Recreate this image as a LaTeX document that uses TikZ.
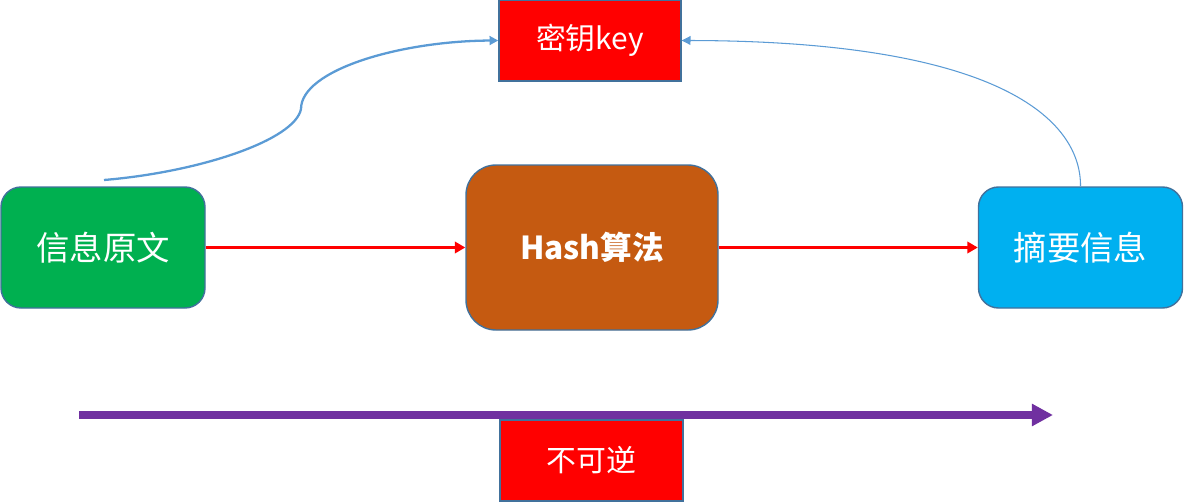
\documentclass[tikz,border=0pt]{standalone}
\usepackage{fontspec}
\setmainfont{Noto Sans CJK SC}
\usetikzlibrary{arrows.meta}
\definecolor{boxline}{HTML}{41719C}
\definecolor{linkblue}{HTML}{5B9BD5}
\definecolor{keyred}{HTML}{FF0000}
\definecolor{srcgreen}{HTML}{00B050}
\definecolor{hashbrown}{HTML}{C55A11}
\definecolor{digestblue}{HTML}{00B0F0}
\definecolor{oneway}{HTML}{7030A0}
\tikzstyle{roundbox} = [rectangle, rounded corners=0.4cm, minimum width=4.08cm, minimum height=2.42cm, text centered, draw=boxline, line width=0.8pt, text=white, font=\fontsize{19}{22}\selectfont]
\tikzstyle{hashbox} = [rectangle, rounded corners=0.6cm, minimum width=5.04cm, minimum height=3.3cm, text centered, draw=boxline, line width=0.8pt, fill=hashbrown, text=white, font=\fontsize{18}{22}\selectfont\bfseries]
\tikzstyle{tagbox} = [rectangle, minimum width=3.64cm, minimum height=1.62cm, text centered, draw=boxline, line width=0.8pt, fill=keyred, text=white, font=\fontsize{17}{20}\selectfont]
\tikzstyle{arrow} = [draw=red, line width=2pt, -{Triangle[length=6pt, width=6.5pt]}]
\tikzstyle{keylink} = [draw=linkblue, -{Triangle[length=5pt, width=5pt]}]

\begin{document}
\begin{tikzpicture}
					\useasboundingbox (0,0) rectangle (23.68,-10.02);
					\node[roundbox, fill=srcgreen] (plain) at (2.06,-4.95) {信息原文};
					\node[hashbox] (hash) at (11.84,-4.95) {Hash算法};
					\node[roundbox, fill=digestblue] (digest) at (21.61,-4.95) {摘要信息};
					\node[tagbox] (key) at (11.8,-0.81) {密钥key};
					\node[tagbox, minimum width=3.66cm] (irrev) at (11.83,-9.21) {不可逆};
					\coordinate (curvestart) at (2.08,-3.6);
					\coordinate (curvemid) at (6.02,-2.18);
					\coordinate (flowstart) at (1.58,-8.3);
					\coordinate (flowend) at (21.06,-8.3);
					\draw[arrow] (plain) -- (hash);
					\draw[arrow] (hash) -- (digest);
					\draw[keylink, line width=1.3pt] (curvestart) .. controls (4.0,-3.44) and (5.9,-2.8) .. (curvemid) .. controls (6.02,-1.4) and (8.0,-0.82) .. (key.west);
					\draw[keylink, line width=0.6pt] (digest.north) .. controls (21.62,-2.4) and (20.0,-0.82) .. (key.east);
					\draw[draw=oneway, line width=4pt, -{Triangle[length=12pt, width=12pt]}] (flowstart) -- (flowend);
					\end{tikzpicture}
\end{document}
